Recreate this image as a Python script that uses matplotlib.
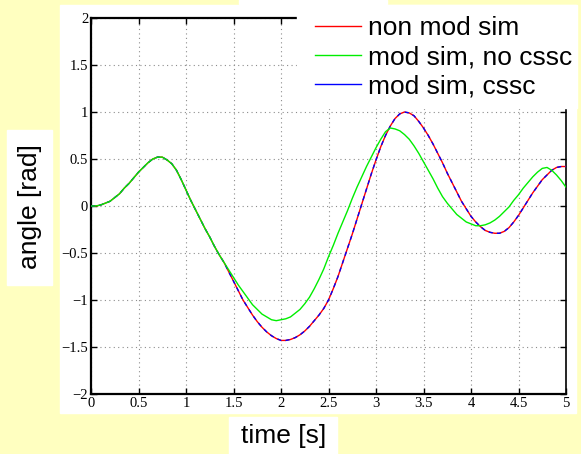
import numpy as np
import matplotlib
matplotlib.use("Agg")
import matplotlib.pyplot as plt
from matplotlib.patches import Rectangle
from matplotlib.lines import Line2D

t = np.linspace(0, 5, 101)

non_mod = [0.00, 0.00, 0.01, 0.03, 0.05, 0.09, 0.13, 0.19, 0.24, 0.30,
           0.36, 0.41, 0.46, 0.50, 0.52, 0.52, 0.49, 0.45, 0.38, 0.28,
           0.17, 0.06, -0.04, -0.14, -0.24, -0.33, -0.43, -0.52, -0.60, -0.70,
           -0.80, -0.90, -1.00, -1.08, -1.16, -1.23, -1.29, -1.34, -1.38, -1.41,
           -1.43, -1.43, -1.42, -1.40, -1.37, -1.33, -1.28, -1.22, -1.16, -1.09,
           -1.00, -0.88, -0.75, -0.60, -0.45, -0.30, -0.14, 0.02, 0.18, 0.34,
           0.49, 0.63, 0.75, 0.85, 0.93, 0.98, 1.00, 0.99, 0.96, 0.90,
           0.83, 0.75, 0.66, 0.56, 0.46, 0.35, 0.25, 0.15, 0.05, -0.03,
           -0.11, -0.17, -0.22, -0.26, -0.28, -0.29, -0.29, -0.27, -0.23, -0.17,
           -0.10, -0.02, 0.06, 0.14, 0.21, 0.28, 0.33, 0.38, 0.41, 0.42,
           0.42]
mod_cssc = list(non_mod)
# same as non mod sim up to t = 1.4 s
mod_no_cssc = non_mod[:29] + [
    -0.68,
    -0.76, -0.84, -0.91, -0.98, -1.05, -1.10, -1.15, -1.18, -1.21, -1.22,
    -1.21, -1.20, -1.18, -1.14, -1.10, -1.04, -0.97, -0.88, -0.78, -0.67,
    -0.54, -0.42, -0.29, -0.17, -0.05, 0.08, 0.20, 0.31, 0.42, 0.52,
    0.62, 0.71, 0.79, 0.83, 0.82, 0.80, 0.76, 0.71, 0.64, 0.56,
    0.47, 0.38, 0.29, 0.19, 0.10, 0.03, -0.03, -0.09, -0.13, -0.17,
    -0.19, -0.21, -0.21, -0.20, -0.18, -0.15, -0.11, -0.06, -0.01, 0.06,
    0.12, 0.19, 0.25, 0.31, 0.36, 0.40, 0.41, 0.38, 0.33, 0.27,
    0.20]

labels = ["non mod sim", "mod sim, no cssc", "mod sim, cssc"]
colors = ["#ff0000", "#00ee00", "#0000ff"]

bg = "#ffffc0"
fig = plt.figure(figsize=(5.81, 4.54), dpi=100, facecolor=bg)

# white panels behind axes and labels
fig.patches.append(Rectangle((60 / 581, 1 - 413 / 454), 516 / 581, 408 / 454,
                             transform=fig.transFigure, color="white", zorder=-5))
fig.patches.append(Rectangle((239 / 581, 1 - 4 / 454), 148 / 581, 4 / 454,
                             transform=fig.transFigure, color="white", zorder=-5))
fig.patches.append(Rectangle((7 / 581, 1 - 285 / 454), 45 / 581, 155 / 454,
                             transform=fig.transFigure, color="white", zorder=-5))
fig.patches.append(Rectangle((229 / 581, 0), 108 / 581, 37 / 454,
                             transform=fig.transFigure, color="white", zorder=-5))

ax = fig.add_axes([91 / 581, 1 - 394 / 454, 475 / 581, 376 / 454])
ax.set_facecolor("white")

ax.plot(t, non_mod, color=colors[0], lw=1.0, zorder=3)
ax.plot(t, mod_cssc, color=colors[2], lw=1.0, dashes=(3, 3), zorder=4)
ax.plot(t, mod_no_cssc, color=colors[1], lw=1.0, zorder=5)

ax.set_xlim(0, 5)
ax.set_ylim(-2, 2)
ax.set_xticks(np.arange(0, 5.01, 0.5))
ax.set_yticks(np.arange(-2, 2.01, 0.5))
ax.set_xticklabels(["0", "0.5", "1", "1.5", "2", "2.5", "3", "3.5", "4", "4.5", "5"])
ax.set_yticklabels(["\u22122", "\u22121.5", "\u22121", "\u22120.5", "0", "0.5", "1", "1.5", "2"])
ax.grid(True, color="0.55", linestyle=(0, (1, 3)), lw=0.8)
ax.tick_params(direction="in", length=4, width=1, top=True, right=True, pad=2,
               labelsize=10.5, labelfontfamily="Liberation Serif")
for s in ax.spines.values():
    s.set_linewidth(1.6)
ax.spines["right"].set_linewidth(1.2)

# legend panel covering the top right corner
fig.patches.append(Rectangle((297 / 581, 1 - 108 / 454), 280 / 581, 103 / 454,
                             transform=fig.transFigure, color="white", zorder=10))
handles = [Line2D([], [], color=c, lw=1.0) for c in colors]
leg = fig.legend(handles, labels, loc="upper left", bbox_to_anchor=(315 / 581, 1 - 16 / 454),
                 frameon=False, borderpad=0, borderaxespad=0, labelspacing=0.2,
                 handlelength=1.75, handletextpad=0.25,
                 prop={"family": "Liberation Sans", "size": 19})
leg.set_zorder(11)

fig.text(29.5 / 581, 1 - 207 / 454, "angle [rad]", rotation=90, ha="center", va="center",
         family="Liberation Sans", fontsize=19)
fig.text(284 / 581, 1 - 436 / 454, "time [s]", ha="center", va="center",
         family="Liberation Sans", fontsize=19)

fig.savefig("out.png", dpi=100, facecolor=bg)
